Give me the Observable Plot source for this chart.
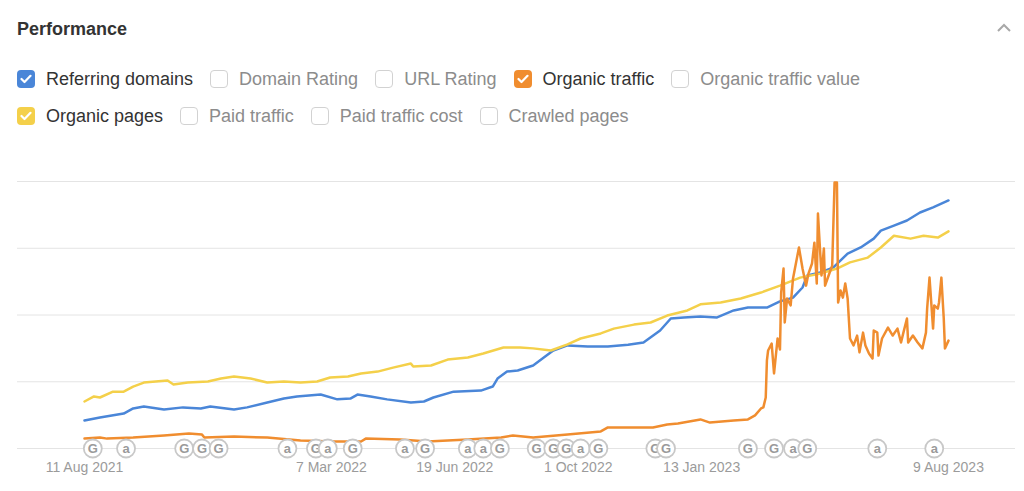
<!DOCTYPE html>
<html>
<head>
<meta charset="utf-8">
<script src="https://cdn.jsdelivr.net/npm/d3@7"></script>
<script src="https://cdn.jsdelivr.net/npm/@observablehq/plot@0.6"></script>
<style>
  html, body { margin: 0; padding: 0; background: #fff; }
  body { width: 1024px; height: 491px; overflow: hidden; font-family: "Liberation Sans", Arial, Helvetica, sans-serif; }
  #hdr { position: relative; height: 150px; }
  #title { position: absolute; left: 17px; top: 18px; font-size: 18px; line-height: 22px; font-weight: bold; color: #333; }
  #chev { position: absolute; left: 996px; top: 23px; }
  .row { position: absolute; left: 17px; display: flex; align-items: center; height: 20px; }
  .item { display: flex; align-items: center; margin-right: 17px; font-size: 18px; white-space: nowrap; }
  .box { width: 18px; height: 18px; box-sizing: border-box; border-radius: 4px; margin-right: 11px; display: flex; align-items: center; justify-content: center; }
  .box.off { border: 1.5px solid #d2d2d2; background: #fff; }
  .lbl.on { color: #333; }
  .lbl.off { color: #8c8c8c; }
</style>
</head>
<body>
<div id="hdr">
  <div id="title">Performance</div>
  <svg id="chev" width="16" height="10" viewBox="0 0 16 10"><polyline points="2,8 8,2 14,8" fill="none" stroke="#a8a8a8" stroke-width="2"/></svg>
  <div class="row" id="row1" style="top:69px"></div>
  <div class="row" id="row2" style="top:106px"></div>
</div>
<div id="chart"></div>
<script>
// ---- Legend metrics ----
const metricsRow1 = ["Referring domains", "Domain Rating", "URL Rating", "Organic traffic", "Organic traffic value"];
const metricsRow2 = ["Organic pages", "Paid traffic", "Paid traffic cost", "Crawled pages"];
const checkedMetrics = ["Referring domains", "Organic traffic", "Organic pages"];

// ---- Series (index values, 0–100 of chart height) ----
const referringDomains = [
  ["2021-08-11",10.5],["2021-08-24",11.6],["2021-09-13",13.1],["2021-09-21",15.0],["2021-09-30",15.7],
  ["2021-10-17",14.6],["2021-11-02",15.4],["2021-11-17",15.0],["2021-11-25",15.7],["2021-12-15",14.6],
  ["2021-12-26",15.4],["2022-01-12",17.2],["2022-01-26",18.7],["2022-02-06",19.5],["2022-02-26",20.2],
  ["2022-03-12",18.4],["2022-03-23",18.7],["2022-03-29",20.2],["2022-04-09",19.5],["2022-04-23",18.4],
  ["2022-05-13",17.2],["2022-05-24",17.6],["2022-06-01",19.1],["2022-06-18",21.3],["2022-07-11",21.7],
  ["2022-07-21",23.2],["2022-07-25",26.2],["2022-08-02",28.8],["2022-08-11",29.2],["2022-08-24",31.1],
  ["2022-09-02",34.1],["2022-09-10",36.7],["2022-09-22",38.6],["2022-10-09",38.2],["2022-10-26",38.2],
  ["2022-11-12",38.9],["2022-11-25",39.7],["2022-12-09",44.2],["2022-12-18",48.7],["2022-12-29",49.1],
  ["2023-01-12",49.4],["2023-01-26",49.1],["2023-02-09",51.7],["2023-02-21",52.8],["2023-03-09",52.8],
  ["2023-03-20",55.1],["2023-03-31",56.5],["2023-04-08",60.3],["2023-04-12",64.8],["2023-04-23",65.9],
  ["2023-05-04",67.8],["2023-05-16",73.0],["2023-05-27",75.3],["2023-06-07",78.6],["2023-06-13",81.6],
  ["2023-06-24",83.5],["2023-07-05",85.4],["2023-07-16",88.4],["2023-07-27",90.3],["2023-08-09",92.9]
];
const organicPages = [
  ["2021-08-11",17.6],["2021-08-19",19.5],["2021-08-24",19.1],["2021-09-04",21.3],["2021-09-13",21.3],
  ["2021-09-21",23.2],["2021-09-30",24.7],["2021-10-20",25.5],["2021-10-25",24.0],["2021-11-06",24.7],
  ["2021-11-23",25.1],["2021-12-04",26.2],["2021-12-15",27.0],["2021-12-29",26.2],["2022-01-12",24.7],
  ["2022-01-26",25.1],["2022-02-09",24.7],["2022-02-23",25.1],["2022-03-06",26.6],["2022-03-21",27.0],
  ["2022-04-01",28.1],["2022-04-15",28.8],["2022-04-28",30.3],["2022-05-13",31.8],["2022-05-15",30.7],
  ["2022-05-30",31.1],["2022-06-13",33.3],["2022-06-30",34.1],["2022-07-13",35.6],["2022-07-30",37.8],
  ["2022-08-13",37.8],["2022-08-24",37.5],["2022-09-08",36.7],["2022-09-22",39.0],["2022-10-03",41.2],
  ["2022-10-20",43.1],["2022-10-31",44.9],["2022-11-17",46.4],["2022-12-01",47.2],["2022-12-15",49.8],
  ["2023-01-01",51.7],["2023-01-12",54.0],["2023-01-29",54.7],["2023-02-15",56.2],["2023-03-04",58.4],
  ["2023-03-20",61.0],["2023-04-06",64.0],["2023-04-23",65.5],["2023-05-07",67.4],["2023-05-18",69.7],
  ["2023-06-02",71.5],["2023-06-13",75.3],["2023-06-24",79.7],["2023-07-08",78.6],["2023-07-19",79.7],
  ["2023-07-31",79.0],["2023-08-09",81.3]
];
const organicTraffic = [
  ["2021-08-11",3.7],["2021-08-24",4.1],["2021-08-30",3.7],["2021-09-21",4.1],["2021-10-17",4.9],
  ["2021-11-07",5.6],["2021-11-18",5.2],["2021-11-20",4.1],["2021-12-15",4.5],["2022-01-12",4.1],
  ["2022-02-09",3.0],["2022-03-09",2.6],["2022-04-01",2.6],["2022-04-05",3.7],["2022-05-04",3.4],
  ["2022-05-27",2.6],["2022-06-30",3.4],["2022-07-28",4.1],["2022-08-07",4.9],["2022-08-24",4.1],
  ["2022-09-22",5.2],["2022-10-20",6.4],["2022-10-26",7.9],["2022-11-17",7.9],["2022-12-03",7.9],
  ["2022-12-15",9.0],["2022-12-24",9.4],["2023-01-12",10.9],["2023-01-20",9.7],["2023-02-09",10.5],
  ["2023-02-21",10.9],["2023-02-27",12.4],["2023-03-04",15.0],["2023-03-06",15.4],["2023-03-08",19.1],
  ["2023-03-09",33.0],["2023-03-10",36.7],["2023-03-13",39.3],["2023-03-15",28.1],["2023-03-18",41.2],
  ["2023-03-20",37.1],["2023-03-21",58.4],["2023-03-23",67.4],["2023-03-24",47.2],["2023-03-26",56.2],
  ["2023-03-29",53.6],["2023-03-31",63.7],["2023-04-05",75.3],["2023-04-08",67.4],["2023-04-11",61.0],
  ["2023-04-13",65.5],["2023-04-16",69.3],["2023-04-18",77.1],["2023-04-20",61.8],["2023-04-21",88.0],
  ["2023-04-24",64.8],["2023-04-26",74.9],["2023-04-27",61.0],["2023-04-30",64.8],["2023-05-03",68.5],
  ["2023-05-05",99.6],["2023-05-07",99.6],["2023-05-08",54.7],["2023-05-10",59.2],["2023-05-12",56.5],
  ["2023-05-14",61.8],["2023-05-16",56.2],["2023-05-18",41.2],["2023-05-21",38.6],["2023-05-24",42.3],
  ["2023-05-26",36.0],["2023-05-29",43.4],["2023-05-31",38.6],["2023-06-03",35.6],["2023-06-06",33.7],
  ["2023-06-07",44.2],["2023-06-10",43.4],["2023-06-11",34.8],["2023-06-14",41.2],["2023-06-19",45.3],
  ["2023-06-23",42.3],["2023-06-27",44.9],["2023-06-30",39.7],["2023-07-02",43.4],["2023-07-05",48.7],
  ["2023-07-06",39.7],["2023-07-10",42.3],["2023-07-14",39.7],["2023-07-18",37.5],["2023-07-21",43.4],
  ["2023-07-22",52.4],["2023-07-24",64.0],["2023-07-27",44.9],["2023-07-28",53.6],["2023-07-31",52.4],
  ["2023-08-01",54.7],["2023-08-03",64.0],["2023-08-05",48.7],["2023-08-06",37.5],["2023-08-09",40.4]
];

// ---- Annotation markers (G = Google update, a = Ahrefs note) ----
const annotations = [
  ["2021-08-18","G"],["2021-09-15","a"],["2021-11-03","G"],["2021-11-18","G"],["2021-12-02","G"],
  ["2022-01-29","a"],["2022-02-22","G"],["2022-03-04","a"],["2022-03-25","G"],["2022-05-08","a"],
  ["2022-05-25","G"],["2022-06-30","a"],["2022-07-13","a"],["2022-07-27","G"],["2022-08-27","G"],
  ["2022-09-10","G"],["2022-09-21","G"],["2022-10-03","a"],["2022-10-18","G"],["2022-12-05","G"],
  ["2022-12-14","G"],["2023-02-21","G"],["2023-03-15","G"],["2023-03-31","a"],["2023-04-12","G"],
  ["2023-06-10","a"],["2023-07-28","a"]
];

// ---- X tick labels ----
const tickDates = ["2021-08-11","2022-03-07","2022-06-19","2022-10-01","2023-01-13","2023-08-09"];
const yGrid = [0, 25, 50, 75, 100];

// ---- Legend build ----
const colorOf = {"Referring domains": "#4a86d8", "Organic traffic": "#f08d2f", "Organic pages": "#f4d04a"};
function buildRow(el, names) {
  for (const name of names) {
    const on = checkedMetrics.includes(name);
    const item = document.createElement("div");
    item.className = "item";
    const box = document.createElement("span");
    box.className = "box " + (on ? "on" : "off");
    if (on) {
      box.style.background = colorOf[name];
      box.innerHTML = '<svg width="12" height="10" viewBox="0 0 12 10"><polyline points="1.5,5 4.5,8 10.5,1.8" fill="none" stroke="#fff" stroke-width="2.2" stroke-linecap="round" stroke-linejoin="round"/></svg>';
    }
    const lbl = document.createElement("span");
    lbl.className = "lbl " + (on ? "on" : "off");
    lbl.textContent = name;
    item.appendChild(box); item.appendChild(lbl);
    el.appendChild(item);
  }
}
buildRow(document.getElementById("row1"), metricsRow1);
buildRow(document.getElementById("row2"), metricsRow2);

// ---- Chart ----
const parse = d3.utcParse("%Y-%m-%d");
const rows = arr => arr.map(([d, v]) => ({date: parse(d), value: v}));
const events = annotations.map(([d, t]) => ({date: parse(d), type: t}));
const fmt = d3.utcFormat("%-d %b %Y");

const eventMarks = events.flatMap(e => [
  Plot.dot([e], {x: "date", y: () => 0, r: 9, fill: "#fff", stroke: "#c8c8c8", strokeWidth: 1.8}),
  Plot.text([e], {x: "date", y: () => 0, text: "type", fill: "#9a9a9a", fontSize: 13, fontWeight: "bold"})
]);

const chart = Plot.plot({
  width: 1024,
  height: 341,
  marginTop: 31,
  marginBottom: 43,
  marginLeft: 17,
  marginRight: 9,
  style: {fontFamily: "'Liberation Sans', Arial, Helvetica, sans-serif", fontSize: "14px", background: "#fff", overflow: "visible"},
  x: {type: "utc", domain: [parse("2021-08-11"), parse("2023-08-09")], range: [84, 948]},
  y: {domain: [0, 100], axis: null},
  marks: [
    Plot.gridY(yGrid, {stroke: "#e4e4e4", strokeOpacity: 1, strokeWidth: 1}),
    Plot.axisX({ticks: tickDates.map(parse), tickSize: 0, tickPadding: 14, tickFormat: fmt, fill: "#9b9b9b", label: null, fontSize: 14}),
    Plot.line(rows(referringDomains), {x: "date", y: "value", stroke: "#4a86d8", strokeWidth: 2.5}),
    Plot.line(rows(organicPages), {x: "date", y: "value", stroke: "#f4d04a", strokeWidth: 2.5}),
    Plot.line(rows(organicTraffic), {x: "date", y: "value", stroke: "#f08d2f", strokeWidth: 2.5}),
    ...eventMarks
  ]
});
document.getElementById("chart").appendChild(chart);
</script>
</body>
</html>
